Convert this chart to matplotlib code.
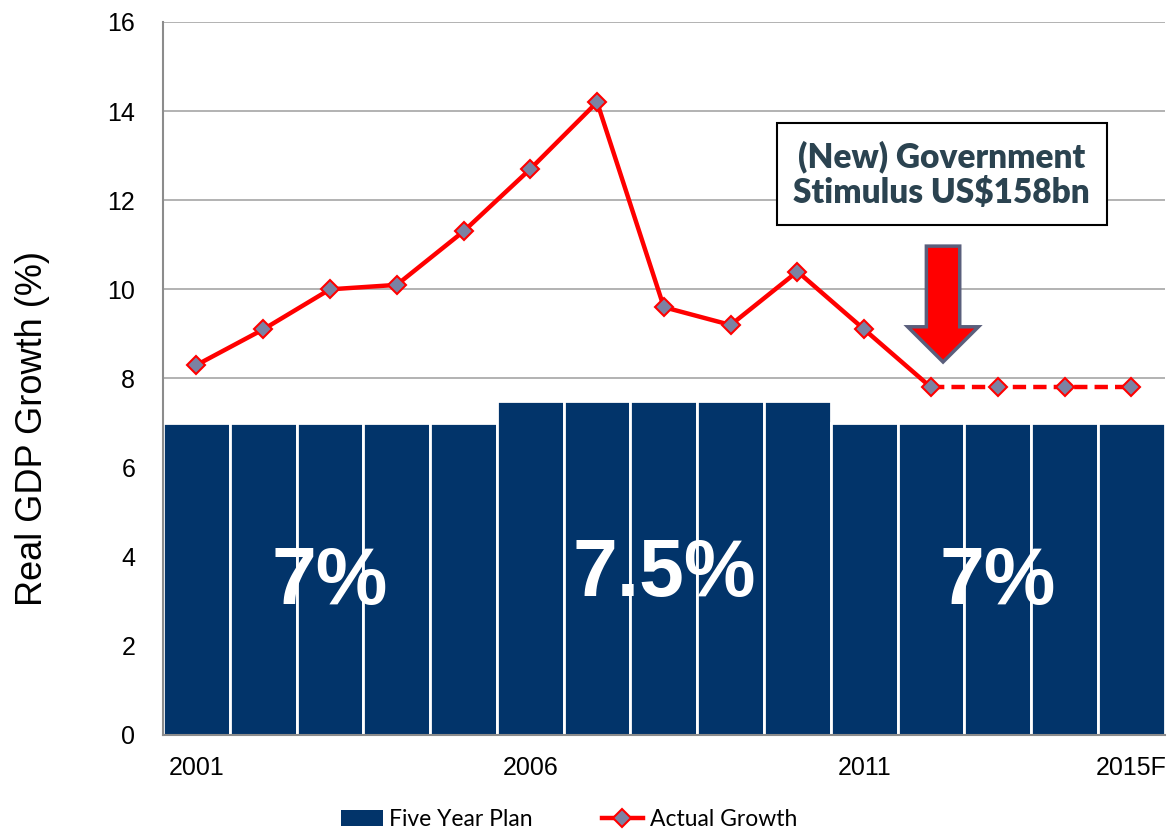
import matplotlib
matplotlib.use("Agg")
import matplotlib.pyplot as plt
from matplotlib.patches import FancyArrow
from matplotlib.lines import Line2D
from matplotlib.patches import Patch

years = ["2001", "2002", "2003", "2004", "2005", "2006", "2007", "2008",
         "2009", "2010", "2011", "2012", "2013", "2014", "2015F"]
plan_target = [7, 7, 7, 7, 7, 7.5, 7.5, 7.5, 7.5, 7.5, 7, 7, 7, 7, 7]
actual_growth = [8.3, 9.1, 10.0, 10.1, 11.3, 12.7, 14.2, 9.6, 9.2, 10.4,
                 9.1, 7.8, 7.8, 7.8, 7.8]
forecast_start = 11  # index of the first projected year (2012)
shown_ticks = ["2001", "2006", "2011", "2015F"]
plan_labels = ["7%", "7.5%", "7%"]
plan_label_pos = [(2, 3.4), (7, 3.6), (12, 3.4)]

NAVY = "#02346a"
RED = "#ff0000"
MARKER_FACE = "#7b82a3"

fig = plt.figure(figsize=(11.69, 8.35), dpi=100)
ax = fig.add_axes([0.1394, 0.1198, 0.857, 0.8539])

x = list(range(len(years)))

ax.bar(x, plan_target, width=1.0, color=NAVY, edgecolor="white",
       linewidth=2, zorder=2)

# actual growth: solid history, dashed projection
ax.plot(x[:forecast_start + 1], actual_growth[:forecast_start + 1],
        color=RED, lw=3.2, zorder=3, solid_capstyle="round")
ax.plot(x[forecast_start:], actual_growth[forecast_start:],
        color=RED, lw=3.2, ls=(0, (3, 1.6)), zorder=3)
ax.plot(x, actual_growth, ls="none", marker="D", ms=9,
        markerfacecolor=MARKER_FACE, markeredgecolor=RED,
        markeredgewidth=1.5, zorder=4)

for txt, (px, py) in zip(plan_labels, plan_label_pos):
    ax.text(px, py, txt, color="white", fontsize=58, fontweight="bold",
            family="Liberation Sans", ha="center", va="center", zorder=5)

ax.set_xlim(-0.5, len(years) - 0.5)
ax.set_ylim(0, 16)
ax.set_yticks(range(0, 17, 2))
ax.yaxis.grid(True, color="#a6a6a6", lw=1.2, zorder=0)
ax.set_axisbelow(True)

ax.set_xticks([years.index(t) for t in shown_ticks])
ax.set_xticklabels(shown_ticks)
ax.tick_params(axis="both", length=0, labelsize=18)
ax.tick_params(axis="x", pad=15)
ax.tick_params(axis="y", pad=20)
for lab in ax.get_xticklabels() + ax.get_yticklabels():
    lab.set_family("Liberation Sans")

for side in ("top", "right"):
    ax.spines[side].set_visible(False)
for side in ("left", "bottom"):
    ax.spines[side].set_color("#8c8c8c")
    ax.spines[side].set_linewidth(1.5)

ax.set_ylabel("Real GDP Growth (%)", fontsize=26, family="Liberation Sans")
ax.yaxis.set_label_coords(-0.113, 0.43)

# stimulus call-out
ax.text(11.16, 12.58, "(New) Government\nStimulus US$158bn",
        fontsize=24, fontweight="heavy", color="#2b4350", family="Lato",
        ha="center", va="center", linespacing=1.15, zorder=6,
        bbox=dict(boxstyle="square,pad=0.5", fc="white", ec="black", lw=1.5))

ax.add_patch(FancyArrow(11.18, 10.97, 0, -2.6, width=0.5, head_width=1.06,
                        head_length=0.79, length_includes_head=True,
                        fc=RED, ec="#5a5f7c", lw=2.5, zorder=6))

handles = [
    Patch(facecolor=NAVY, edgecolor="none"),
    Line2D([0], [0], color=RED, lw=3.2, marker="D", ms=9,
           markerfacecolor=MARKER_FACE, markeredgecolor=RED,
           markeredgewidth=1.5),
]
fig.legend(handles, ["Five Year Plan", "Actual Growth"], loc="center",
           bbox_to_anchor=(0.487, 0.018), ncol=2, frameon=False,
           prop={"family": "Lato", "size": 16.5}, handlelength=1.8,
           handleheight=0.7, columnspacing=3.0, handletextpad=0.3)

fig.savefig("out.png", dpi=100)
